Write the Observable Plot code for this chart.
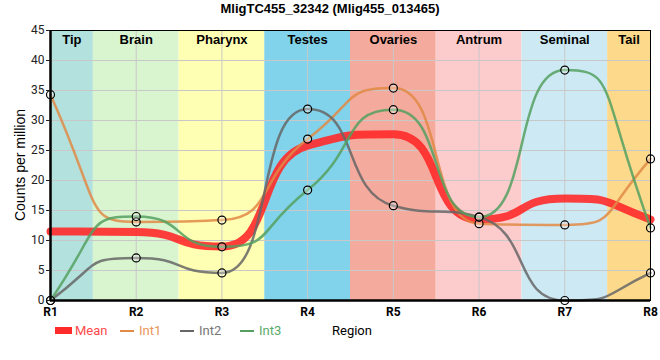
<!DOCTYPE html>
<html><head><meta charset="utf-8">
<script src="https://cdn.jsdelivr.net/npm/d3@7"></script>
<script src="https://cdn.jsdelivr.net/npm/@observablehq/plot@0.6"></script>
<style>
body{margin:0;background:#fff;font-family:"Liberation Sans",Arial,sans-serif;}
#wrap{position:relative;width:660px;height:360px;overflow:hidden;}
#title{height:18px;line-height:18px;text-align:center;font-weight:bold;font-size:13px;color:#000;}
#legend{position:absolute;left:0;top:322px;width:660px;height:20px;font-family:Roboto,sans-serif;font-size:13px;}
#legend .sw{position:absolute;}
#legend .lb{position:absolute;top:1px;line-height:16px;}
#ylabel{position:absolute;left:20px;top:165px;transform:translate(-50%,-50%) rotate(-90deg);white-space:nowrap;font-family:"Liberation Sans",Arial,sans-serif;font-size:14px;color:#000;}
svg{display:block;}
</style></head>
<body><div id="wrap"><div id="title"></div><div id="chart"></div><div id="ylabel"></div><div id="legend"></div></div>
<script>
const titleText = "MligTC455_32342 (Mlig455_013465)";
const yLabel = "Counts per million";
const xLabel = "Region";
const regions = ["R1","R2","R3","R4","R5","R6","R7","R8"];
const bandNames = ["Tip","Brain","Pharynx","Testes","Ovaries","Antrum","Seminal","Tail"];
const bandColors = ["#b3e2de","#d9f5d0","#ffffb4","#80d3ea","#f4aa9c","#fccbcc","#cdeaf4","#fdd98b"];
const seriesNames = ["Mean","Int1","Int2","Int3"];
const seriesColors = ["#ff2a2a","#e08a45","#666666","#55a060"];
const legendTextColors = ["#ff4a4a","#e8955a","#777777","#5aaa6a"];
const mean = [11.5, 11.4, 9.0, 25.8, 27.7, 13.5, 17.0, 13.5];
const int1 = [34.3, 13.1, 13.4, 26.9, 35.4, 12.8, 12.6, 23.6];
const int2 = [0, 7.1, 4.6, 31.9, 15.8, 13.9, 0, 4.6];
const int3 = [0, 14.0, 8.95, 18.4, 31.8, 13.9, 38.4, 12.1];
const yTicks = [0,5,10,15,20,25,30,35,40,45];

document.getElementById("title").textContent = titleText;
document.getElementById("ylabel").textContent = yLabel;

// monotone curve with longer control arms (flatter near points, steeper between)
function steepMonotone(a) {
  return function(context) {
    let xs = [], ys = [];
    return {
      areaStart() {}, areaEnd() {},
      lineStart() { xs = []; ys = []; },
      point(x, y) { xs.push(+x); ys.push(+y); },
      lineEnd() {
        const n = xs.length;
        if (!n) return;
        context.moveTo(xs[0], ys[0]);
        if (n === 1) return;
        if (n === 2) { context.lineTo(xs[1], ys[1]); return; }
        const s = [];
        for (let i = 0; i < n - 1; i++) s.push((ys[i + 1] - ys[i]) / (xs[i + 1] - xs[i]));
        const m = new Array(n);
        for (let i = 1; i < n - 1; i++) {
          const h0 = xs[i] - xs[i - 1], h1 = xs[i + 1] - xs[i];
          const s0 = s[i - 1], s1 = s[i];
          const p = (s0 * h1 + s1 * h0) / (h0 + h1);
          m[i] = (Math.sign(s0) + Math.sign(s1)) * Math.min(Math.abs(s0), Math.abs(s1), 0.5 * Math.abs(p)) || 0;
        }
        m[0] = (3 * s[0] - m[1]) / 2;
        m[n - 1] = (3 * s[n - 2] - m[n - 2]) / 2;
        for (let i = 0; i < n - 1; i++) {
          const dx = xs[i + 1] - xs[i], dy = ys[i + 1] - ys[i];
          let k0 = a * dx, k1 = a * dx;
          if (Math.abs(m[i] * k0) > Math.abs(dy)) k0 = Math.abs(dy / m[i]);
          if (Math.abs(m[i + 1] * k1) > Math.abs(dy)) k1 = Math.abs(dy / m[i + 1]);
          context.bezierCurveTo(xs[i] + k0, ys[i] + m[i] * k0, xs[i + 1] - k1, ys[i + 1] - m[i + 1] * k1, xs[i + 1], ys[i + 1]);
        }
      }
    };
  };
}
const curve = steepMonotone(0.6);

const n = regions.length;
const bands = bandNames.map((name, i) => ({
  name, color: bandColors[i],
  x1: Math.max(1, i + 0.5), x2: Math.min(n, i + 1.5)
}));
const meanRows = regions.map((r, i) => ({x: i + 1, v: mean[i]}));
const intSeries = [int1, int2, int3];
const intRows = intSeries.flatMap((arr, s) => regions.map((r, i) => ({x: i + 1, v: arr[i], series: seriesNames[s + 1], color: seriesColors[s + 1]})));

const chart = Plot.plot({
  width: 660, height: 327,
  marginTop: 12, marginBottom: 45, marginLeft: 50, marginRight: 10,
  style: {fontFamily: "Roboto, sans-serif", fontSize: "12px", color: "#222", background: "transparent"},
  x: {type: "linear", domain: [1, n]},
  y: {domain: [0, 45]},
  color: {type: "identity"},
  marks: [
    Plot.rect(bands, {x1: "x1", x2: "x2", y1: 0, y2: 45, fill: "color"}),
    Plot.gridY(yTicks, {stroke: "#c8c8c8", strokeOpacity: 1}),
    Plot.gridX(d3.range(1, n + 1), {stroke: "#c8c8c8", strokeOpacity: 1}),
    Plot.text(bands, {x: d => (d.x1 + d.x2) / 2, y: 45, text: "name", lineAnchor: "top", dy: 4, fontWeight: "bold", fontSize: 13, fill: "black", fontFamily: "Liberation Sans, Arial, sans-serif"}),
    Plot.line(meanRows, {x: "x", y: "v", curve, stroke: seriesColors[0], strokeWidth: 8, strokeOpacity: 0.9}),
    Plot.line(intRows, {x: "x", y: "v", z: "series", stroke: "color", curve, strokeWidth: 2.5, strokeOpacity: 0.85}),
    Plot.dot(intRows, {x: "x", y: "v", r: 4, stroke: "black", strokeWidth: 1.2, fill: "white", fillOpacity: 0.3}),
    Plot.frame({stroke: "black", strokeWidth: 1}),
    Plot.ruleX([1], {stroke: "black", strokeWidth: 2.5}),
    Plot.ruleY([0], {stroke: "black", strokeWidth: 2.5}),
    Plot.axisY(yTicks, {tickSize: 4, tickPadding: 2, fontSize: 12, label: null, fill: "#222"}),
    Plot.axisX(d3.range(1, n + 1), {tickSize: 0, tickPadding: 7, fontSize: 12, fontWeight: "bold", tickFormat: d => regions[d - 1], label: null, fill: "#000"})
  ]
});
document.getElementById("chart").appendChild(chart);

// legend
const legend = document.getElementById("legend");
const swLeft = [55, 120, 180, 240];
seriesNames.forEach((name, i) => {
  const sw = document.createElement("div");
  sw.className = "sw";
  const thick = i === 0;
  sw.style.left = swLeft[i] + "px";
  sw.style.width = (thick ? 17 : 14) + "px";
  sw.style.height = (thick ? 7 : 2) + "px";
  sw.style.top = (thick ? 5 : 8) + "px";
  sw.style.background = seriesColors[i];
  legend.appendChild(sw);
  const lb = document.createElement("div");
  lb.className = "lb";
  lb.style.left = (swLeft[i] + (thick ? 20 : 19)) + "px";
  lb.style.color = legendTextColors[i];
  lb.textContent = name;
  legend.appendChild(lb);
});
const xl = document.createElement("div");
xl.className = "lb";
xl.style.left = "332px";
xl.style.color = "#000";
xl.textContent = xLabel;
legend.appendChild(xl);
</script></body></html>
